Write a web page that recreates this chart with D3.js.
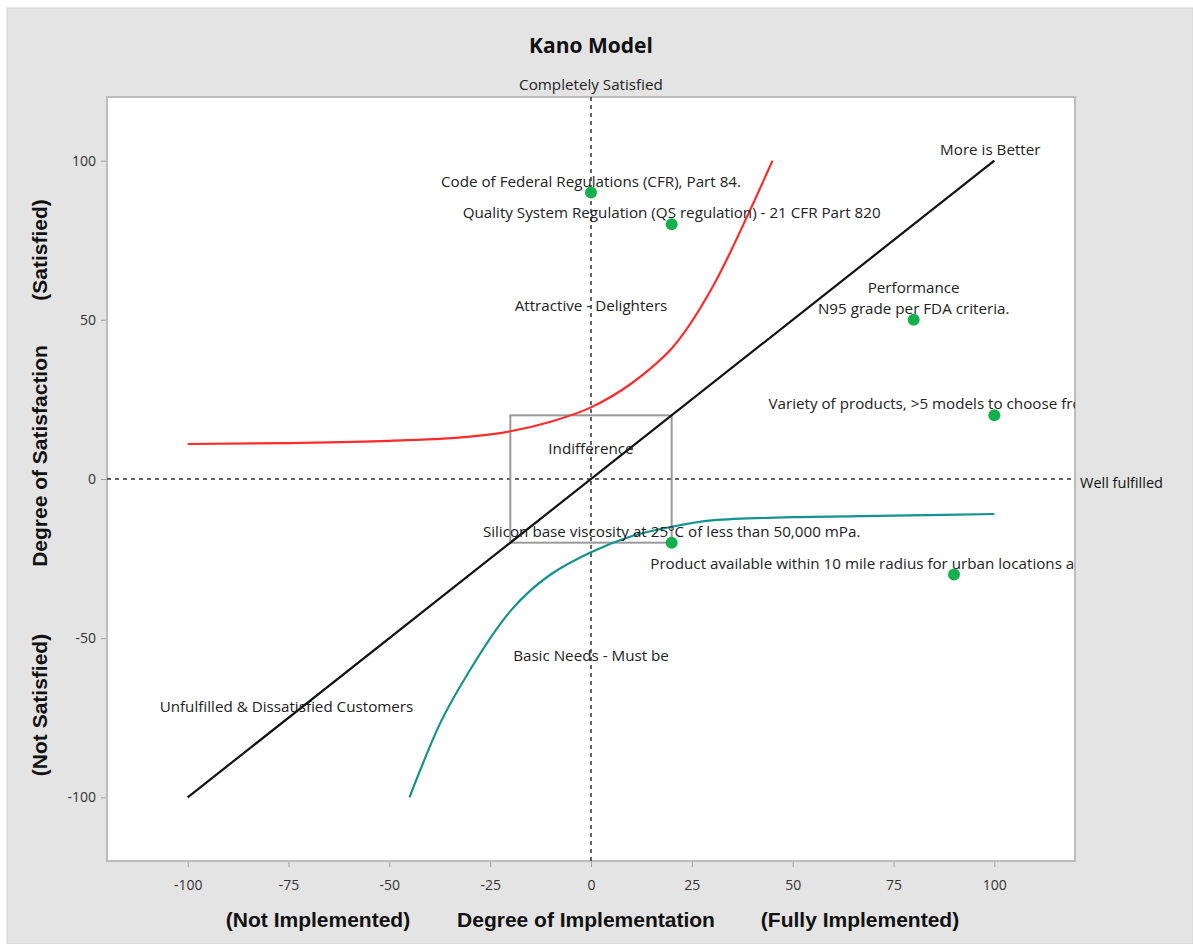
<!DOCTYPE html>
<html>
<head>
<meta charset="utf-8">
<script src="https://cdn.jsdelivr.net/npm/d3@7"></script>
<style>
  body { margin: 0; background: #fff; }
  svg { display: block; font-family: 'Open Sans', 'Liberation Sans', Arial, sans-serif; }
</style>
</head>
<body>
<div id="chart"></div>
<script>
// feature points
var pointX = [0, 20, 80, 100, 20, 90]
var pointY = [90, 80, 50, 20, -20, -30]
var pointLabels = [
  ['Code of Federal Regulations (CFR), Part 84.'],
  ['Quality System Regulation (QS regulation) - 21 CFR Part 820'],
  ['Performance', 'N95 grade per FDA criteria.'],
  ['Variety of products, >5 models to choose from'],
  ['Silicon base viscosity at 25\u00B0C of less than 50,000 mPa.'],
  ['Product available within 10 mile radius for urban locations and 24 hours for rural']
]
var labelAnchor = ['middle', 'middle', 'middle', 'start', 'middle', 'start']
var labelStartX = [0, 20, 80, 44, 20, 14.7]

// curves
var attractiveX = [-100, -75, -50, -30, -20, -10, 0, 10, 15, 20, 30, 40, 45]
var attractiveY = [11, 11.3, 12, 13.3, 15, 18, 22.5, 30, 35, 41, 60, 86, 100]
var basicX = [-45, -37.5, -30, -20, -15, -10, 0, 10, 20, 30, 50, 75, 100]
var basicY = [-100, -77, -60, -41.5, -35, -30, -23, -18, -15, -13, -12, -11.5, -11]
var moreX = [-100, 100]
var moreY = [-100, 100]

// region captions
var regionText = ['More is Better', 'Attractive - Delighters', 'Indifference', 'Basic Needs - Must be', 'Unfulfilled & Dissatisfied Customers']
var regionX = [99, 0, 0, 0, -75.5]
var regionY = [103.5, 54.5, 9.3, -55.7, -71.7]

var xTicks = [-100, -75, -50, -25, 0, 25, 50, 75, 100]
var yTicks = [-100, -50, 0, 50, 100]

var width = 1193, height = 944
var m = {left: 107, right: 118, top: 97, bottom: 83}
var labelSize = 15.2

var svg = d3.select('#chart').append('svg')
  .attr('width', width).attr('height', height)

svg.append('rect').attr('x', 7).attr('y', 8).attr('width', width - 7).attr('height', height - 8)
  .attr('fill', '#e4e4e4').attr('stroke', '#d4d4d4')

var x = d3.scaleLinear().domain([-120, 120]).range([m.left, width - m.right])
var y = d3.scaleLinear().domain([-120, 120]).range([height - m.bottom, m.top])

svg.append('defs').append('clipPath').attr('id', 'plotclip')
  .append('rect').attr('x', m.left).attr('y', m.top)
  .attr('width', width - m.left - m.right).attr('height', height - m.top - m.bottom)

svg.append('rect').attr('x', m.left).attr('y', m.top)
  .attr('width', width - m.left - m.right).attr('height', height - m.top - m.bottom)
  .attr('fill', '#fff').attr('stroke', '#bdbdbd').attr('stroke-width', 2)

// axes
var fmt = function(d){ return String(d) }
svg.append('g').attr('transform', 'translate(0,' + (height - m.bottom + 1) + ')')
  .call(d3.axisBottom(x).tickValues(xTicks).tickFormat(fmt).tickSize(5).tickPadding(13))
svg.append('g').attr('transform', 'translate(' + (m.left - 1) + ',0)')
  .call(d3.axisLeft(y).tickValues(yTicks).tickFormat(fmt).tickSize(5).tickPadding(5))
svg.selectAll('.domain').remove()
svg.selectAll('.tick line').attr('stroke', '#a0a0a0')
svg.selectAll('.tick text').attr('font-size', 14).attr('fill', '#333')
  .attr('font-family', "'Open Sans', sans-serif")

var plot = svg.append('g').attr('clip-path', 'url(#plotclip)')

// reference lines
plot.append('line').attr('x1', x(-120)).attr('x2', x(120)).attr('y1', y(0)).attr('y2', y(0))
  .attr('stroke', '#333').attr('stroke-width', 1.5).attr('stroke-dasharray', '4,4')
plot.append('line').attr('x1', x(0)).attr('x2', x(0)).attr('y1', y(-120)).attr('y2', y(120))
  .attr('stroke', '#333').attr('stroke-width', 1.5).attr('stroke-dasharray', '4,4')

// indifference box
plot.append('rect').attr('x', x(-20)).attr('y', y(20))
  .attr('width', x(20) - x(-20)).attr('height', y(-20) - y(20))
  .attr('fill', 'none').attr('stroke', '#999').attr('stroke-width', 2)

var line = d3.line().x(function(d){ return x(d[0]) }).y(function(d){ return y(d[1]) })
  .curve(d3.curveMonotoneX)

plot.append('path').datum(d3.zip(moreX, moreY)).attr('d', line)
  .attr('fill', 'none').attr('stroke', '#111').attr('stroke-width', 2.2)
plot.append('path').datum(d3.zip(attractiveX, attractiveY)).attr('d', line)
  .attr('fill', 'none').attr('stroke', '#ff2a2a').attr('stroke-width', 2.2)
plot.append('path').datum(d3.zip(basicX, basicY)).attr('d', line)
  .attr('fill', 'none').attr('stroke', '#13938f').attr('stroke-width', 2.2)

// region captions
plot.selectAll('.region').data(regionText).enter().append('text')
  .attr('class', 'region')
  .attr('x', function(d, i){ return x(regionX[i]) })
  .attr('y', function(d, i){ return y(regionY[i]) + 5 })
  .attr('text-anchor', 'middle').attr('font-size', labelSize).attr('fill', '#222')
  .text(function(d){ return d })

// point labels
pointLabels.forEach(function(lines, i){
  var t = plot.append('text')
    .attr('text-anchor', labelAnchor[i])
    .attr('font-size', labelSize).attr('fill', '#222')
  lines.forEach(function(s, j){
    t.append('tspan')
      .attr('x', labelAnchor[i] == 'start' ? x(labelStartX[i]) : x(pointX[i]))
      .attr('y', y(pointY[i]) - 6 - (lines.length - 1 - j) * 21)
      .text(s)
  })
})

plot.selectAll('circle').data(pointX).enter().append('circle')
  .attr('cx', function(d){ return x(d) })
  .attr('cy', function(d, i){ return y(pointY[i]) })
  .attr('r', 6).attr('fill', '#13b04b')

// outside texts
svg.append('text').attr('x', x(0)).attr('y', 53).attr('text-anchor', 'middle')
  .attr('font-size', 21).attr('font-weight', 'bold').attr('fill', '#111').text('Kano Model')
svg.append('text').attr('x', x(0)).attr('y', 90).attr('text-anchor', 'middle')
  .attr('font-size', labelSize).attr('fill', '#222').text('Completely Satisfied')
svg.append('text').attr('x', x(120) + 5).attr('y', y(0) + 9)
  .attr('font-size', 14.5).attr('fill', '#111').text('Well fulfilled')

var xTitles = ['(Not Implemented)', 'Degree of Implementation', '(Fully Implemented)']
var xTitleX = [318, 586, 860]
svg.selectAll('.xtitle').data(xTitles).enter().append('text')
  .attr('class', 'xtitle')
  .attr('x', function(d, i){ return xTitleX[i] }).attr('y', 927)
  .attr('text-anchor', 'middle').attr('font-size', 21).attr('font-weight', 'bold')
  .attr('font-family', "'Liberation Sans', Arial, sans-serif")
  .attr('fill', '#111').text(function(d){ return d })

var yTitles = ['(Not Satisfied)', 'Degree of Satisfaction', '(Satisfied)']
var yTitleY = [705, 456, 250]
svg.selectAll('.ytitle').data(yTitles).enter().append('text')
  .attr('class', 'ytitle')
  .attr('transform', function(d, i){ return 'translate(47,' + yTitleY[i] + ') rotate(-90)' })
  .attr('text-anchor', 'middle').attr('font-size', 21).attr('font-weight', 'bold')
  .attr('font-family', "'Liberation Sans', Arial, sans-serif")
  .attr('fill', '#111').text(function(d){ return d })
</script>
</body>
</html>
